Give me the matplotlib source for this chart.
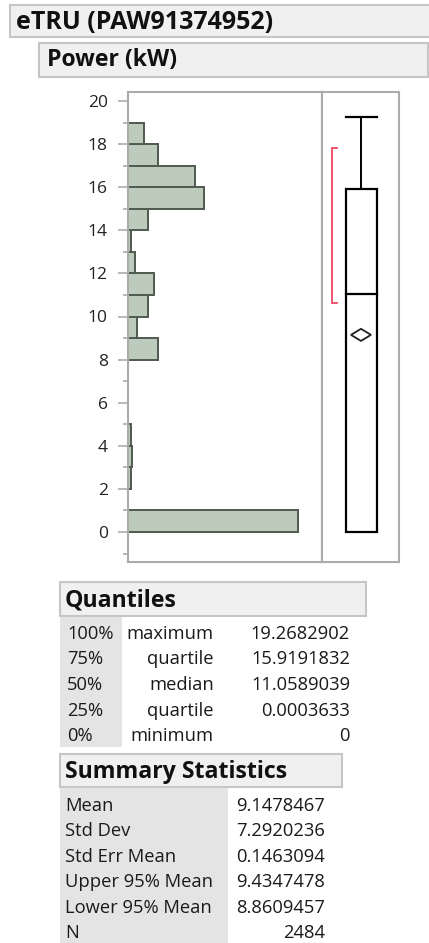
import matplotlib
matplotlib.use("Agg")
import matplotlib.pyplot as plt
from matplotlib.patches import Rectangle, Polygon

plt.rcParams['font.family'] = ['Open Sans', 'DejaVu Sans']

# ---------------- data ----------------
title = "eTRU (PAW91374952)"
variable = "Power (kW)"
bin_lefts = [0, 1, 2, 3, 4, 5, 6, 7, 8, 9, 10, 11, 12, 13, 14, 15, 16, 17, 18]
bin_counts = [873, 0, 13, 21, 13, 0, 0, 0, 154, 46, 103, 134, 36, 14, 103, 391, 344, 154, 82]
y_ticks = [0, 2, 4, 6, 8, 10, 12, 14, 16, 18, 20]
y_minor = [-1, 1, 3, 5, 7, 9, 11, 13, 15, 17, 19]

q_pct = ["100%", "75%", "50%", "25%", "0%"]
q_names = ["maximum", "quartile", "median", "quartile", "minimum"]
q_values = [19.2682902, 15.9191832, 11.0589039, 0.0003633, 0.0]
q_strings = ["19.2682902", "15.9191832", "11.0589039", "0.0003633", "0"]

s_names = ["Mean", "Std Dev", "Std Err Mean", "Upper 95% Mean", "Lower 95% Mean", "N"]
s_strings = ["9.1478467", "7.2920236", "0.1463094", "9.4347478", "8.8609457", "2484"]
mean_value = 9.1478467
shortest_half = [10.64, 17.83]

# ---------------- figure ----------------
W, H = 429, 943
fig = plt.figure(figsize=(W / 100, H / 100), dpi=100)
fig.patch.set_facecolor("white")
renderer = fig.canvas.get_renderer()

def px_axes(l, t, r, b):
    return fig.add_axes([l / W, (H - b) / H, (r - l) / W, (b - t) / H])

# overlay in pixel coords
ov = fig.add_axes([0, 0, 1, 1])
ov.set_xlim(0, W)
ov.set_ylim(H, 0)
ov.axis("off")

def fit_text(x, y, s, width, size0=13, **kw):
    t = ov.text(x, y, s, fontsize=size0, va="baseline", ha="left", **kw)
    w = t.get_window_extent(renderer).width
    t.set_fontsize(size0 * width / w)
    return t

hdr_fc = "#f0f0f0"
hdr_ec = "#c6c6c6"
txt_c = "#1a1a1a"
ov.add_patch(Rectangle((10, 5), 440, 32, fc=hdr_fc, ec=hdr_ec, lw=1.5))
fit_text(16, 29, title, 256, fontweight="bold", color="#111111")
ov.add_patch(Rectangle((39, 43), 389, 34, fc=hdr_fc, ec=hdr_ec, lw=1.5))
fit_text(47, 66, variable, 129, fontweight="bold", color="#111111")

# Quantiles table
ov.add_patch(Rectangle((60, 582), 306, 34, fc=hdr_fc, ec=hdr_ec, lw=1.5))
fit_text(65, 607, "Quantiles", 111, fontweight="bold", color="#111111")
ov.add_patch(Rectangle((60, 617), 62, 130, fc="#e4e4e4", ec="none"))
row_y0, row_dy = 639, 25.5
fs = 13.2
for i in range(len(q_pct)):
    y = row_y0 + i * row_dy
    ov.text(67, y, q_pct[i], fontsize=fs, va="baseline", ha="left", color=txt_c)
    ov.text(214, y, q_names[i], fontsize=fs, va="baseline", ha="right", color=txt_c)
    ov.text(350, y, q_strings[i], fontsize=fs, va="baseline", ha="right", color=txt_c)

# Summary Statistics table
ov.add_patch(Rectangle((60, 754), 282, 33, fc=hdr_fc, ec=hdr_ec, lw=1.5))
fit_text(65, 778, "Summary Statistics", 222, fontweight="bold", color="#111111")
ov.add_patch(Rectangle((60, 788), 168, 160, fc="#e4e4e4", ec="none"))
s_y0, s_dy = 811, 25.4
for i in range(len(s_names)):
    y = s_y0 + i * s_dy
    ov.text(65, y, s_names[i], fontsize=fs, va="baseline", ha="left", color=txt_c)
    ov.text(325, y, s_strings[i], fontsize=fs, va="baseline", ha="right", color=txt_c)

# ---------------- histogram ----------------
frame_c = "#ababab"
y_lo, y_hi = -(562 - 532) / 21.55, (532 - 92) / 21.55

ax = px_axes(128, 92, 322, 562)
ax.barh(bin_lefts, bin_counts, height=1.0, align="edge",
        color="#bccbbb", edgecolor="#4d5a4d", linewidth=1.4)
ax.set_ylim(y_lo, y_hi)
ax.set_xlim(0, max(bin_counts) * 194 / 170)
ax.set_yticks(y_ticks)
ax.set_yticks(y_minor, minor=True)
ax.set_xticks([])
ax.tick_params(axis="y", which="major", length=7.5, width=1.2, color=frame_c,
               labelsize=12.5, labelcolor="#222222", pad=7)
ax.tick_params(axis="y", which="minor", length=3.8, width=1.2, color=frame_c)
for s in ax.spines.values():
    s.set_color(frame_c)
    s.set_linewidth(1.5)

# ---------------- box plot ----------------
bx = px_axes(322, 92, 399, 562)
bx.set_ylim(y_lo, y_hi)
bx.set_xlim(0, 1)
bx.set_xticks([])
bx.set_yticks([])
for s in bx.spines.values():
    s.set_color(frame_c)
    s.set_linewidth(1.5)

q_max, q3, med, q1, q_min = q_values
bl, br, bc = 0.307, 0.71, 0.506
bx.add_patch(Rectangle((bl, q1), br - bl, q3 - q1, fc="white", ec="black", lw=1.6))
bx.plot([bl, br], [med, med], color="black", lw=1.6)
bx.plot([bc, bc], [q3, q_max], color="black", lw=1.4)
bx.plot([bl, br], [q_max, q_max], color="black", lw=1.6)
# mean diamond
dw, dh = 0.13, 0.28
bx.add_patch(Polygon([[bc - dw, mean_value], [bc, mean_value + dh],
                      [bc + dw, mean_value], [bc, mean_value - dh]],
                     closed=True, fc="white", ec="#222222", lw=1.3))
# shortest half bracket
sx, sx2 = 0.134, 0.2
bx.plot([sx2, sx, sx, sx2], [shortest_half[1], shortest_half[1], shortest_half[0], shortest_half[0]],
        color="#ee4763", lw=1.3, solid_joinstyle="miter")

fig.savefig("out.png", dpi=100, facecolor="white")
